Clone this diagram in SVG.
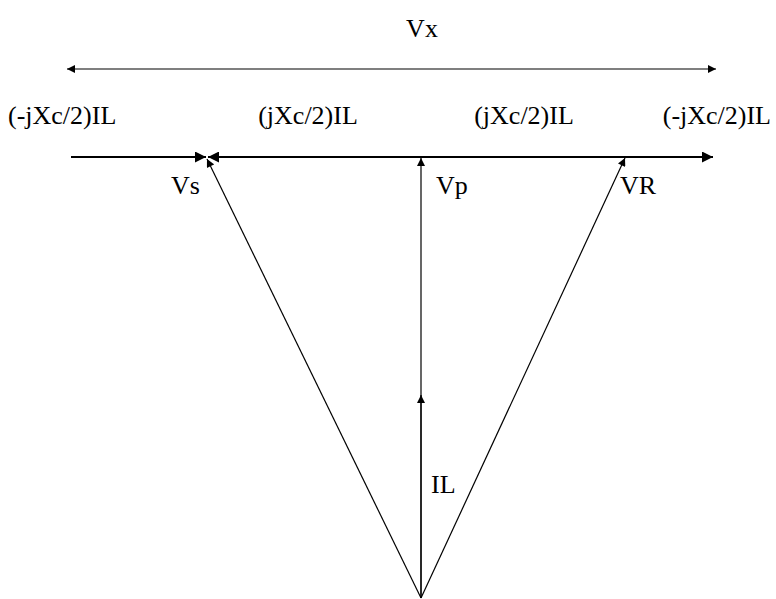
<svg xmlns="http://www.w3.org/2000/svg" width="776" height="599" viewBox="0 0 776 599">
<defs>
<style>
.t{font-family:"Liberation Serif","Times New Roman",serif;font-size:26px;fill:#000}
.l{stroke:#000;stroke-width:1.2;fill:none}
.b{stroke:#000;stroke-width:2;fill:none}
</style>
<marker id="s" viewBox="0 0 10 10" refX="10" refY="5" markerUnits="userSpaceOnUse" markerWidth="9" markerHeight="8" orient="auto-start-reverse"><path d="M0,0 L10,5 L0,10 z" fill="#000"/></marker>
<marker id="L" viewBox="0 0 10 10" refX="10" refY="5" markerUnits="userSpaceOnUse" markerWidth="15" markerHeight="11" orient="auto-start-reverse"><path d="M0,0 L10,5 L0,10 z" fill="#000"/></marker>
</defs>
<rect width="776" height="599" fill="#fff"/>
<g id="connectors">
<line class="l" x1="67" y1="69" x2="716" y2="69" marker-start="url(#s)" marker-end="url(#s)"/>
<line class="b" x1="71" y1="157" x2="206" y2="157" marker-end="url(#L)"/>
<line class="b" x1="208" y1="157" x2="713" y2="157" marker-start="url(#L)" marker-end="url(#L)"/>
<line class="l" x1="421" y1="598" x2="207" y2="159" marker-end="url(#s)"/>
<line class="l" x1="421" y1="598" x2="421" y2="158" marker-end="url(#s)"/>
<line class="l" x1="421" y1="598" x2="421" y2="395" marker-end="url(#s)"/>
<line class="l" x1="421" y1="598" x2="625" y2="158" marker-end="url(#s)"/>
</g>
<g id="labels">
<text class="t" x="422" y="37" text-anchor="middle">Vx</text>
<text class="t" x="8" y="124">(-jXc/2)IL</text>
<text class="t" x="308" y="124" text-anchor="middle">(jXc/2)IL</text>
<text class="t" x="524" y="124" text-anchor="middle">(jXc/2)IL</text>
<text class="t" x="771" y="124" text-anchor="end">(-jXc/2)IL</text>
<text class="t" x="171" y="194">Vs</text>
<text class="t" x="436" y="194">Vp</text>
<text class="t" x="620" y="194">VR</text>
<text class="t" x="431" y="493">IL</text>
</g>
</svg>
